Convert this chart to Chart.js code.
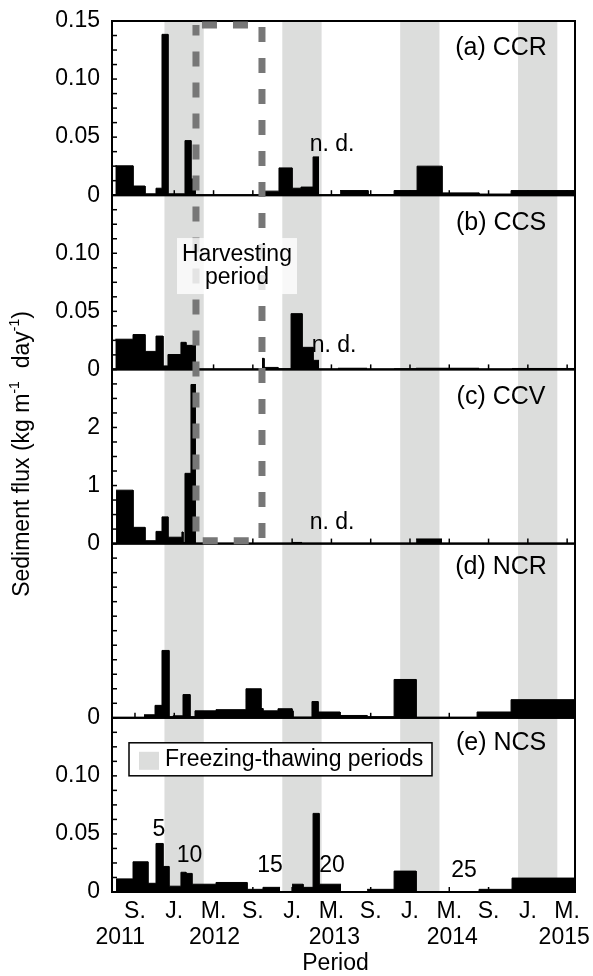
<!DOCTYPE html>
<html>
<head>
<meta charset="utf-8">
<script src="https://cdn.jsdelivr.net/npm/chart.js@4/dist/chart.umd.min.js"></script>
<style>
    html, body { margin: 0; padding: 0; background: #fff; }
</style>
</head>
<body>
<canvas id="fluxChart" width="593" height="976"></canvas>
<script>
// x values are months counted from 1 Jan 2011 (8 = Sep 2011, 12 = Jan 2012 ...)
const xTicks = [8, 12, 16, 20, 24, 28, 32, 36, 40, 44, 48, 52];
const xTickLabels = ["S.", "J.", "M.", "S.", "J.", "M.", "S.", "J.", "M.", "S.", "J.", "M."];
const yearLabels = ["2011", "2012", "2013", "2014", "2015"];
const yearPos = [6.5, 16.1, 28.3, 40.3, 51.7];

// freezing-thawing periods (Dec - Feb) and harvesting period
const freezeStart = [11, 23, 35, 47];
const freezeEnd = [15, 27, 39, 51];
const harvestStart = 14.21;
const harvestEnd = 20.93;

// sampling period boundaries and sediment flux per period (null = no data)
const ccrEdges = [6.0, 7.8, 9.02, 10.14, 10.75, 11.36, 13.09, 13.7, 14.21, 20.73, 21.03, 22.66, 23.99, 24.9, 26.13, 26.74, 28.88, 31.73, 34.38, 36.72, 39.26, 43.03, 46.29, 52.81];
const ccrFlux = [0.0253, 0.0079, 0.0012, 0.006, 0.1385, 0.0012, 0.047, 0.014, null, 0.008, 0.0035, 0.0235, 0.006, 0.007, 0.033, null, 0.004, 0.0006, 0.004, 0.025, 0.002, 0.001, 0.004];

const ccsEdges = [6.0, 7.8, 9.02, 10.14, 10.85, 11.36, 12.68, 13.19, 14.21, 20.93, 21.14, 22.56, 23.89, 25.01, 26.13, 26.74, 28.67, 31.63, 34.38, 36.62, 39.26, 43.03, 46.39, 52.81];
const ccsFlux = [0.026, 0.030, 0.0155, 0.0287, 0.003, 0.0128, 0.0233, 0.0207, null, 0.0095, 0.0017, 0.0005, 0.048, 0.019, 0.0078, null, 0.001, null, 0.0005, 0.001, 0.001, null, 0.0008];

const ccvEdges = [6.07, 7.8, 9.02, 10.14, 10.75, 11.36, 12.78, 12.89, 13.09, 13.7, 14.21, 23.99, 25.01, 36.62, 39.26];
const ccvFlux = [0.92, 0.28, 0.05, 0.21, 0.46, 0.11, 0.2, 0.02, 1.21, 2.74, null, 0.02, null, 0.08];

const ncrEdges = [8.92, 10.04, 10.75, 11.46, 11.87, 12.89, 13.6, 14.11, 16.25, 19.3, 20.83, 21.03, 22.56, 23.99, 24.09, 26.02, 26.64, 28.88, 31.63, 34.38, 36.62, 42.83, 46.29, 52.81];
const ncrFlux = [0.0026, 0.0107, 0.058, 0.001, 0.0017, 0.02, 0.001, 0.006, 0.007, 0.025, 0.008, 0.006, 0.0078, 0.006, 0.0005, 0.014, 0.005, 0.002, 0.001, 0.033, 0.0003, 0.005, 0.0156];

const ncsEdges = [6.07, 7.8, 9.32, 10.14, 10.85, 11.46, 12.68, 13.19, 13.8, 16.25, 19.41, 21.03, 22.77, 23.99, 25.11, 26.13, 26.74, 28.98, 31.63, 34.38, 36.62, 43.03, 46.39, 52.81];
const ncsFlux = [0.0113, 0.026, 0.0075, 0.0418, 0.022, 0.005, 0.017, 0.016, 0.0067, 0.0082, 0.0023, 0.004, null, 0.0067, 0.004, 0.0677, 0.0067, null, 0.0023, 0.018, 0.0003, 0.0023, 0.012];

// sample numbers written above some NCS periods
const sampleNumbers = ["5", "10", "15", "20", "25"];
const sampleNumX = [10.44, 13.55, 21.75, 28.06, 41.5];
const sampleNumY = [0.054, 0.031, 0.0225, 0.0225, 0.018];

// y tick labels
const fluxTickVals = [0, 0.05, 0.1, 0.15];
const fluxTickText = ["0", "0.05", "0.10", "0.15"];
const ccvTickVals = [0, 1, 2];
const ccvTickText = ["0", "1", "2"];

const FONT = '"Liberation Sans", Arial, sans-serif';
const SHADE = "#dcdddc";

function steps(edges, vals) {
    const pts = [];
    for (let i = 0; i < vals.length; i++) {
        if (vals[i] === null) {
            pts.push({ x: edges[i], y: null });
            continue;
        }
        pts.push({ x: edges[i], y: vals[i] }, { x: edges[i + 1], y: vals[i] });
    }
    return pts;
}

function minorTicks(max, step) {
    const out = [];
    const n = Math.round(max / step);
    for (let k = 0; k <= n; k++) out.push(Math.round(k * step * 1e6) / 1e6);
    return out;
}

function panelScale(weight, max, step, vals, texts, hideTop) {
    return {
        type: "linear",
        position: "left",
        stack: "panels",
        stackWeight: 1,
        weight: weight,
        min: 0,
        max: max,
        afterBuildTicks: s => { s.ticks = minorTicks(max, step).map(v => ({ value: v })); },
        afterFit: s => { s.width = 112; s.paddingTop = 0; s.paddingBottom = 0; },
        grid: { display: false, drawTicks: false },
        border: { display: false },
        ticks: {
            autoSkip: false,
            padding: 12,
            color: "#000",
            font: { family: FONT, size: 23 },
            callback: function (value) {
                for (let i = 0; i < vals.length; i++) {
                    if (Math.abs(vals[i] - value) < 1e-6) {
                        if (hideTop && Math.abs(value - max) < 1e-6) return "";
                        return texts[i];
                    }
                }
                return "";
            }
        }
    };
}

function txt(ctx, str, x, y, size, align) {
    ctx.font = size + "px " + FONT;
    ctx.textAlign = align || "center";
    ctx.textBaseline = "middle";
    ctx.fillText(str, x, y);
}

const panelIds = ["ya", "yb", "yc", "yd", "ye"];
const panelNames = ["(a) CCR", "(b) CCS", "(c) CCV", "(d) NCR", "(e) NCS"];
const panelNameY = [0.127, 0.126, 2.52, 0.13, 0.128];

const decorPlugin = {
    id: "decor",
    beforeDatasetsDraw(chart) {
        const { ctx, chartArea, scales } = chart;
        ctx.save();
        ctx.fillStyle = SHADE;
        for (let i = 0; i < freezeStart.length; i++) {
            const x1 = scales.x.getPixelForValue(freezeStart[i]);
            const x2 = scales.x.getPixelForValue(freezeEnd[i]);
            ctx.fillRect(x1, chartArea.top, x2 - x1, chartArea.bottom - chartArea.top);
        }
        ctx.restore();
    },
    afterDatasetsDraw(chart) {
        const { ctx, chartArea, scales } = chart;
        const xs = scales.x;
        ctx.save();
        ctx.fillStyle = "#000";
        ctx.strokeStyle = "#000";

        // panel frames and inward ticks
        panelIds.forEach(id => {
            const s = scales[id];
            ctx.lineWidth = 1.5;
            s.ticks.forEach(t => {
                const py = s.getPixelForValue(t.value);
                ctx.beginPath();
                ctx.moveTo(chartArea.left, py);
                ctx.lineTo(chartArea.left + 5, py);
                ctx.stroke();
            });
            xTicks.forEach(v => {
                const px = xs.getPixelForValue(v);
                ctx.beginPath();
                ctx.moveTo(px, s.bottom);
                ctx.lineTo(px, s.bottom - 5);
                ctx.stroke();
            });
            ctx.lineWidth = 2;
            ctx.strokeRect(chartArea.left, s.top, chartArea.right - chartArea.left, s.bottom - s.top);
        });

        // panel names
        panelIds.forEach((id, i) => {
            txt(ctx, panelNames[i], xs.getPixelForValue(45.27), scales[id].getPixelForValue(panelNameY[i]), 25);
        });

        // n. d. marks
        txt(ctx, "n. d.", xs.getPixelForValue(28.06), scales.ya.getPixelForValue(0.0436), 23);
        txt(ctx, "n. d.", xs.getPixelForValue(28.27), scales.yb.getPixelForValue(0.0207), 23);
        txt(ctx, "n. d.", xs.getPixelForValue(28.06), scales.yc.getPixelForValue(0.365), 23);

        // sample numbers
        sampleNumbers.forEach((n, i) => {
            txt(ctx, n, xs.getPixelForValue(sampleNumX[i]), scales.ye.getPixelForValue(sampleNumY[i]), 23);
        });

        // harvesting period dashed box
        const hx1 = xs.getPixelForValue(harvestStart);
        const hx2 = xs.getPixelForValue(harvestEnd);
        const hy1 = scales.ya.getPixelForValue(0.1466);
        const hy2 = scales.yc.getPixelForValue(0.05);
        ctx.strokeStyle = "#777";
        ctx.lineWidth = 7;
        ctx.setLineDash([15, 16]);
        ctx.lineDashOffset = 25;
        ctx.beginPath();
        ctx.moveTo(hx1, hy1);
        ctx.lineTo(hx2, hy1);
        ctx.lineTo(hx2, hy2);
        ctx.lineTo(hx1, hy2);
        ctx.closePath();
        ctx.stroke();
        ctx.setLineDash([]);

        // harvesting label
        const cx = (hx1 + hx2) / 2 + 8;
        const ly = scales.yb.getPixelForValue(0.089);
        ctx.fillStyle = "rgba(255,255,255,0.8)";
        ctx.fillRect(cx - 60, ly - 28, 120, 56);
        ctx.fillStyle = "#000";
        txt(ctx, "Harvesting", cx, ly - 11, 23);
        txt(ctx, "period", cx, ly + 12, 23);

        // legend for the shaded periods
        const lx = chartArea.left + 17;
        const lyTop = scales.ye.top + 25;
        ctx.fillStyle = "#fff";
        ctx.fillRect(lx, lyTop, 303, 33);
        ctx.strokeStyle = "#000";
        ctx.lineWidth = 1.5;
        ctx.strokeRect(lx, lyTop, 303, 33);
        ctx.fillStyle = SHADE;
        ctx.fillRect(lx + 10, lyTop + 9, 20, 18);
        ctx.fillStyle = "#000";
        txt(ctx, "Freezing-thawing periods", lx + 36, lyTop + 17, 23, "left");
        ctx.restore();
    },
    afterDraw(chart) {
        const { ctx, chartArea, scales } = chart;
        ctx.save();
        ctx.fillStyle = "#000";
        yearLabels.forEach((y, i) => {
            txt(ctx, y, scales.x.getPixelForValue(yearPos[i]), 938, 23);
        });
        txt(ctx, "Period", (chartArea.left + chartArea.right) / 2 - 8, 964, 23);

        // y axis title with superscripts
        const parts = [["Sediment flux (kg m", false], ["-1", true], ["  day", false], ["-1", true], [")", false]];
        ctx.translate(23, 454);
        ctx.rotate(-Math.PI / 2);
        let total = 0;
        parts.forEach(p => {
            ctx.font = (p[1] ? 14 : 23) + "px " + FONT;
            total += ctx.measureText(p[0]).width;
        });
        let x = -total / 2;
        ctx.textAlign = "left";
        ctx.textBaseline = "middle";
        parts.forEach(p => {
            ctx.font = (p[1] ? 14 : 23) + "px " + FONT;
            ctx.fillText(p[0], x, p[1] ? -8 : 0);
            x += ctx.measureText(p[0]).width;
        });
        ctx.restore();
    }
};

function fluxSet(label, edges, vals, axis) {
    return {
        label: label,
        data: steps(edges, vals),
        yAxisID: axis,
        borderColor: "#000",
        backgroundColor: "#000",
        borderWidth: 1,
        pointRadius: 0,
        tension: 0,
        fill: "origin",
        spanGaps: false
    };
}

new Chart("fluxChart", {
    type: "line",
    data: {
        datasets: [
            fluxSet("CCR", ccrEdges, ccrFlux, "ya"),
            fluxSet("CCS", ccsEdges, ccsFlux, "yb"),
            fluxSet("CCV", ccvEdges, ccvFlux, "yc"),
            fluxSet("NCR", ncrEdges, ncrFlux, "yd"),
            fluxSet("NCS", ncsEdges, ncsFlux, "ye")
        ]
    },
    options: {
        responsive: false,
        animation: false,
        devicePixelRatio: 1,
        layout: { padding: { top: 21, right: 18, left: 0, bottom: 0 } },
        plugins: { legend: { display: false }, tooltip: { enabled: false } },
        scales: {
            x: {
                type: "linear",
                position: "bottom",
                min: 5.66,
                max: 52.8,
                afterBuildTicks: s => { s.ticks = xTicks.map(v => ({ value: v })); },
                afterFit: s => { s.height = 84; s.paddingLeft = 0; s.paddingRight = 0; },
                grid: { display: false, drawTicks: false },
                border: { display: false },
                ticks: {
                    autoSkip: false,
                    maxRotation: 0,
                    padding: 6,
                    color: "#000",
                    font: { family: FONT, size: 23 },
                    callback: (v, i) => xTickLabels[i]
                }
            },
            ya: panelScale(5, 0.15, 0.0125, fluxTickVals, fluxTickText, false),
            yb: panelScale(4, 0.15, 0.0125, fluxTickVals, fluxTickText, true),
            yc: panelScale(3, 3, 0.25, ccvTickVals, ccvTickText, true),
            yd: panelScale(2, 0.15, 0.0125, [0], ["0"], true),
            ye: panelScale(1, 0.15, 0.0125, fluxTickVals, fluxTickText, true)
        }
    },
    plugins: [decorPlugin]
});
</script>
</body>
</html>
